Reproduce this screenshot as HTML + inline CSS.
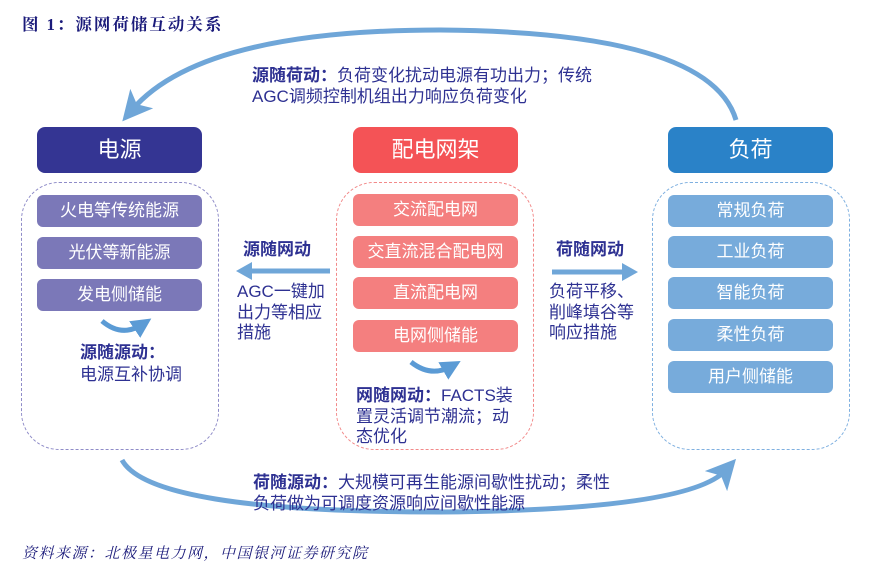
<!DOCTYPE html>
<html><head><meta charset="utf-8"><style>
body{margin:0;width:883px;height:574px;background:#fff;position:relative;overflow:hidden;font-family:"Liberation Sans","Noto Sans CJK SC",sans-serif;}
.a{position:absolute;}
.hd{position:absolute;width:165px;height:46px;border-radius:8px;color:#fff;font-size:22px;text-align:center;line-height:46px;}
.it{position:absolute;width:165px;height:32px;border-radius:6px;color:#fff;font-size:17px;text-align:center;line-height:32px;}
.cont{position:absolute;width:198px;height:268px;border:1.5px dashed;border-radius:38px;box-sizing:border-box;}
.t{position:absolute;color:#2e3192;font-size:17px;line-height:20.5px;white-space:nowrap;}
b{font-weight:bold;}
</style></head><body>
<div class="a" style="left:22px;top:11px;font-family:'Liberation Serif','Noto Serif CJK SC',serif;font-weight:bold;font-size:16.5px;color:#1a1a7a;letter-spacing:2px;">图 1：源网荷储互动关系</div>

<svg class="a" style="left:0;top:0" width="883" height="574">
<defs>
<marker id="m" markerWidth="6" markerHeight="6" refX="3" refY="3" orient="auto" markerUnits="strokeWidth"><path d="M0,0 L6,3 L0,6 L1.5,3 z" fill="#6fa6d8"/></marker>
<marker id="s" markerWidth="4" markerHeight="4" refX="2" refY="2" orient="auto" markerUnits="strokeWidth"><path d="M0,0 L4,2 L0,4 z" fill="#5b9bd5"/></marker>
</defs>
<path d="M736,120 Q 710,32 440,30 Q 200,30 132,110" fill="none" stroke="#6fa6d8" stroke-width="5" marker-end="url(#m)"/>
<path d="M122,460 Q 150,512 440,512 Q 690,510 726,470" fill="none" stroke="#6fa6d8" stroke-width="5" marker-end="url(#m)"/>
<path d="M102,321 Q 122,338 143,324" fill="none" stroke="#5b9bd5" stroke-width="5" marker-end="url(#s)"/>
<path d="M411,362 Q 431,378 452,366" fill="none" stroke="#5b9bd5" stroke-width="5" marker-end="url(#s)"/>
<line x1="330" y1="271" x2="250" y2="271" stroke="#6fa6d8" stroke-width="5"/>
<path d="M236,271 L252,262 L252,280 z" fill="#6fa6d8"/>
<line x1="552" y1="272" x2="624" y2="272" stroke="#6fa6d8" stroke-width="5"/>
<path d="M638,272 L622,263 L622,281 z" fill="#6fa6d8"/>
</svg>

<div class="t" style="left:252px;top:66px;"><b>源随荷动：</b>负荷变化扰动电源有功出力；传统<br>AGC调频控制机组出力响应负荷变化</div>

<div class="hd" style="left:37px;top:127px;background:#343593;">电源</div>
<div class="hd" style="left:353px;top:127px;background:#f45356;">配电网架</div>
<div class="hd" style="left:668px;top:127px;background:#2a82c8;">负荷</div>

<div class="cont" style="left:21px;top:182px;border-color:#8f8cc8;"></div>
<div class="cont" style="left:336px;top:182px;border-color:#f28a8a;"></div>
<div class="cont" style="left:652px;top:182px;border-color:#7fb0e0;"></div>

<div class="it" style="left:37px;top:195px;background:#7b78b8;">火电等传统能源</div>
<div class="it" style="left:37px;top:237px;background:#7b78b8;">光伏等新能源</div>
<div class="it" style="left:37px;top:279px;background:#7b78b8;">发电侧储能</div>

<div class="it" style="left:353px;top:194px;background:#f47f7f;">交流配电网</div>
<div class="it" style="left:353px;top:236px;background:#f47f7f;">交直流混合配电网</div>
<div class="it" style="left:353px;top:277px;background:#f47f7f;">直流配电网</div>
<div class="it" style="left:353px;top:320px;background:#f47f7f;">电网侧储能</div>

<div class="it" style="left:668px;top:195px;background:#77abdb;">常规负荷</div>
<div class="it" style="left:668px;top:236px;background:#77abdb;">工业负荷</div>
<div class="it" style="left:668px;top:277px;background:#77abdb;">智能负荷</div>
<div class="it" style="left:668px;top:319px;background:#77abdb;">柔性负荷</div>
<div class="it" style="left:668px;top:361px;background:#77abdb;">用户侧储能</div>

<div class="t" style="left:80px;top:342px;line-height:22px;"><b>源随源动：</b><br>电源互补协调</div>
<div class="t" style="left:243px;top:240px;"><b>源随网动</b></div>
<div class="t" style="left:237px;top:282px;">AGC一键加<br>出力等相应<br>措施</div>
<div class="t" style="left:556px;top:240px;"><b>荷随网动</b></div>
<div class="t" style="left:549px;top:282px;">负荷平移、<br>削峰填谷等<br>响应措施</div>
<div class="t" style="left:356px;top:386px;"><b>网随网动：</b>FACTS装<br>置灵活调节潮流；动<br>态优化</div>

<div class="t" style="left:253px;top:473px;"><b>荷随源动：</b>大规模可再生能源间歇性扰动；柔性<br>负荷做为可调度资源响应间歇性能源</div>

<div class="a" style="left:22px;top:542px;font-family:'Liberation Serif','Noto Serif CJK SC',serif;font-style:italic;font-size:15px;color:#1a1a7a;letter-spacing:1.5px;">资料来源：北极星电力网，中国银河证券研究院</div>
</body></html>
